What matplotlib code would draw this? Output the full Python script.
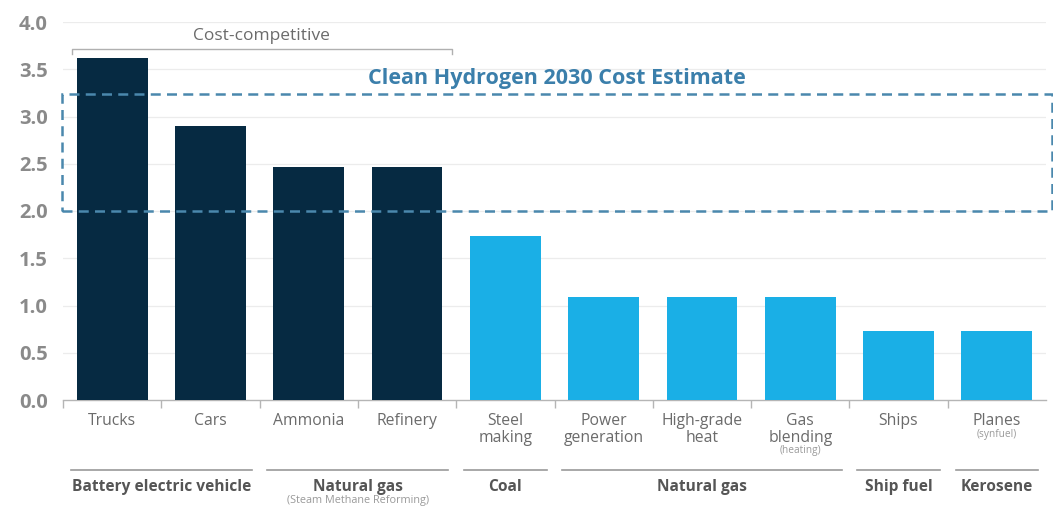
import matplotlib
matplotlib.use("Agg")
import matplotlib.pyplot as plt
from matplotlib.patches import Rectangle

# ---- data ----
categories = ["Trucks", "Cars", "Ammonia", "Refinery", "Steel\nmaking",
              "Power\ngeneration", "High-grade\nheat", "Gas\nblending",
              "Ships", "Planes"]
sub_notes = ["", "", "", "", "", "", "", "(heating)", "", "(synfuel)"]
values = [3.62, 2.90, 2.47, 2.47, 1.74, 1.09, 1.09, 1.09, 0.73, 0.73]
competitive = [True, True, True, True, False, False, False, False, False, False]
groups = ["Battery electric vehicle", "Natural gas", "Coal", "Natural gas",
          "Ship fuel", "Kerosene"]
group_notes = ["", "(Steam Methane Reforming)", "", "", "", ""]
group_spans = [(0, 1), (2, 3), (4, 4), (5, 7), (8, 8), (9, 9)]
estimate_low, estimate_high = 2.0, 3.24
yticks = [0.0, 0.5, 1.0, 1.5, 2.0, 2.5, 3.0, 3.5, 4.0]

DARK = "#062a42"
LIGHT = "#1aafe6"
BOXC = "#4a88ad"
GRAY = "#6b6b6b"

plt.rcParams["font.family"] = ["Open Sans", "DejaVu Sans"]

fig = plt.figure(figsize=(10.53, 5.19), dpi=100)
W, H = 1053, 519
ax = fig.add_axes([63 / W, (H - 400) / H, (1046 - 63) / W, (400 - 22) / H])

x = list(range(len(categories)))
colors = [DARK if c else LIGHT for c in competitive]
ax.bar(x, values, width=0.72, color=colors, zorder=3)

ax.set_xlim(-0.5, len(categories) - 0.5)
ax.set_ylim(0, 4.0)
ax.set_yticks(yticks)
ax.set_yticklabels([f"{v:.1f}" for v in yticks], fontsize=14.5,
                   fontweight="bold", color="#8a8a8a")
ax.tick_params(axis="y", length=0, pad=11)
for v in yticks[1:]:
    ax.axhline(v, color="#ececec", lw=0.9, zorder=1)

for s in ["top", "right", "left"]:
    ax.spines[s].set_visible(False)
ax.spines["bottom"].set_color("#b5b5b5")
ax.spines["bottom"].set_linewidth(1.0)

ax.set_xticks([i - 0.5 for i in range(len(categories))])
ax.set_xticklabels([])
ax.tick_params(axis="x", length=6, color="#b5b5b5", width=1.0, direction="out")

tr = ax.get_xaxis_transform()
def yf(py):
    return (400 - py) / 378.0

for i, (lab, note) in enumerate(zip(categories, sub_notes)):
    ax.text(i, yf(413), lab, transform=tr, ha="center", va="top",
            fontsize=11.3, color=GRAY, linespacing=1.05, clip_on=False)
    if note:
        nl = lab.count("\n") + 1
        ax.text(i, yf(413 + 15.5 * nl + 1), note, transform=tr, ha="center",
                va="top", fontsize=7.3, color="#9a9a9a", clip_on=False)

for g, note, (a, b) in zip(groups, group_notes, group_spans):
    ax.plot([a - 0.42, b + 0.42], [yf(470), yf(470)], transform=tr,
            color="#9a9a9a", lw=1.2, clip_on=False)
    ax.text((a + b) / 2, yf(487), g, transform=tr, ha="center", va="center",
            fontsize=11.2, fontweight="bold", color="#555555", clip_on=False)
    if note:
        ax.text((a + b) / 2, yf(500), note, transform=tr, ha="center",
                va="center", fontsize=7.8, color="#9a9a9a", clip_on=False)

# cost-competitive bracket
n_comp = sum(competitive)
by = 3.71
ax.plot([-0.41, -0.41, n_comp - 1 + 0.46, n_comp - 1 + 0.46],
        [by - 0.05, by, by, by - 0.05], color="#b0b0b0", lw=1.0,
        clip_on=False, zorder=4)
ax.text((n_comp - 1) / 2 + 0.02, by + 0.06, "Cost-competitive", ha="center",
        va="bottom", fontsize=12.5, color=GRAY)

# estimate box
box_left, box_right = -0.51, len(categories) - 0.5 + 0.06
box = Rectangle((box_left, estimate_low), box_right - box_left,
                estimate_high - estimate_low, fill=False, edgecolor=BOXC,
                lw=1.8, linestyle=(0, (4, 2.5)), clip_on=False, zorder=5)
ax.add_patch(box)
ax.text((box_left + box_right) / 2, estimate_high + 0.05,
        "Clean Hydrogen 2030 Cost Estimate", ha="center", va="bottom",
        fontsize=15.5, fontweight="bold", color="#3b7fab", zorder=6)

fig.savefig("out.png", dpi=100)
